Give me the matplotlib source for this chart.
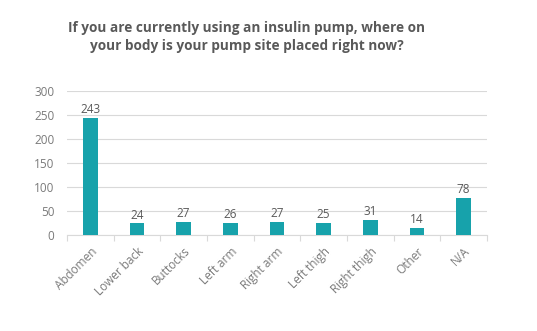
import matplotlib
matplotlib.use('Agg')
import matplotlib.pyplot as plt
import numpy as np

categories = ['Abdomen', 'Lower back', 'Buttocks', 'Left arm', 'Right arm',
              'Left thigh', 'Right thigh', 'Other', 'N/A']
counts = [243, 24, 27, 26, 27, 25, 31, 14, 78]
yticks = [0, 50, 100, 150, 200, 250, 300]

bar_color = '#17a2ab'
text_color = '#595959'
label_color = '#7a7a7a'
grid_color = '#d9d9d9'

fig = plt.figure(figsize=(5.37, 3.31), dpi=100)
# axes placed in pixel terms: x 67..487, y 91..235 (from top)
ax = fig.add_axes([67/537, 1 - 235/331, (487-67)/537, (235-91)/331])

x = np.arange(len(categories))
bars = ax.bar(x, counts, width=0.32, color=bar_color, zorder=3)

for xi, v in zip(x, counts):
    ax.text(xi, v + 4, str(v), ha='center', va='bottom', fontsize=8.5,
            color=text_color, family='Open Sans')

ax.set_xlim(-0.5, len(categories) - 0.5)
ax.set_ylim(0, 300)
ax.set_yticks(yticks)
ax.set_yticklabels([str(t) for t in yticks], fontsize=8.5, color=label_color,
                   family='Open Sans')
ax.yaxis.grid(True, color=grid_color, linewidth=0.8, zorder=0)
ax.tick_params(axis='y', length=0, pad=9)

ax.set_xticks(x)
ax.set_xticklabels(categories, rotation=45, ha='right', rotation_mode='anchor',
                   fontsize=8.5, color=label_color, family='Open Sans')
ax.tick_params(axis='x', length=0, pad=7)
ax.set_xticks(np.arange(len(categories) + 1) - 0.5, minor=True)
ax.tick_params(axis='x', which='minor', length=4, color=grid_color, width=0.8)

for s in ['top', 'right', 'left']:
    ax.spines[s].set_visible(False)
ax.spines['bottom'].set_color(grid_color)
ax.spines['bottom'].set_linewidth(0.8)

fig.text(247/537, 1 - 37/331, 'If you are currently using an insulin pump, where on\nyour body is your pump site placed right now?',
         ha='center', va='center', fontsize=9.8, fontweight='bold', color=text_color,
         family='Open Sans', linespacing=1.45)

fig.savefig('out.png', dpi=100)
